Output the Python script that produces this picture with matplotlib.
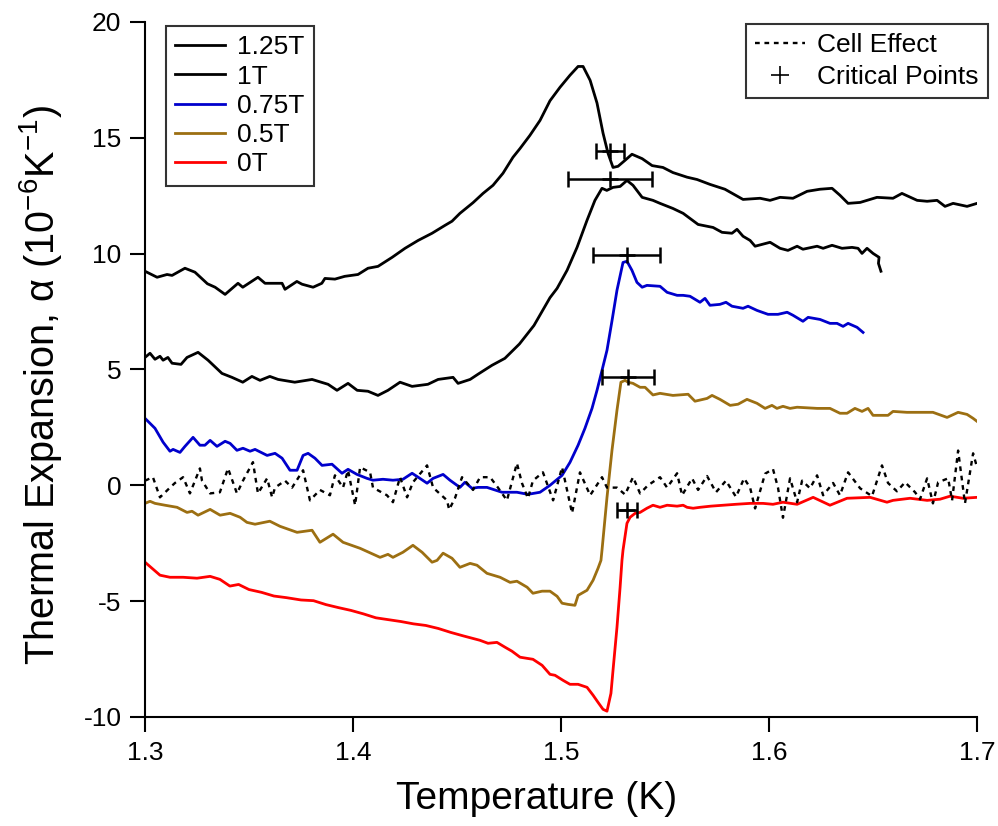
import numpy as np
import matplotlib
matplotlib.use("Agg")
import matplotlib.pyplot as plt
from matplotlib.lines import Line2D

plt.rcParams["font.family"] = ["Liberation Sans", "DejaVu Sans"]
plt.rcParams["mathtext.fontset"] = "custom"
plt.rcParams["mathtext.rm"] = "Liberation Sans"
plt.rcParams["axes.unicode_minus"] = False

# (T [K], alpha [1e-6 / K])
b125 = [(1.300, 9.24), (1.3058, 8.98), (1.3106, 9.10), (1.313, 9.06), (1.3192, 9.37), (1.324, 9.20),
        (1.330, 8.70), (1.3337, 8.55), (1.3385, 8.24), (1.3447, 8.72), (1.347, 8.55), (1.3543, 8.98),
        (1.3577, 8.72), (1.3659, 8.72), (1.3673, 8.46), (1.373, 8.80), (1.3755, 8.68), (1.3808, 8.55),
        (1.385, 8.72), (1.3865, 8.93), (1.3913, 8.90), (1.396, 9.02), (1.4024, 9.10), (1.4072, 9.37),
        (1.412, 9.45), (1.4188, 9.84), (1.425, 10.23), (1.4313, 10.57), (1.438, 10.88), (1.4442, 11.22),
        (1.4476, 11.40), (1.4514, 11.74), (1.4577, 12.20), (1.4625, 12.60), (1.4673, 12.95),
        (1.4721, 13.47), (1.4769, 14.16), (1.4803, 14.54), (1.485, 15.10), (1.4899, 15.75),
        (1.4947, 16.60), (1.4995, 17.18), (1.5043, 17.70), (1.5082, 18.08), (1.5106, 18.08),
        (1.514, 17.48), (1.5173, 16.50), (1.5202, 15.20), (1.5226, 14.33), (1.525, 13.72),
        (1.5274, 13.77), (1.5308, 14.03), (1.5341, 14.29), (1.539, 14.10), (1.5438, 13.80),
        (1.549, 13.72), (1.5538, 13.50), (1.5606, 13.30), (1.5654, 13.20), (1.5716, 12.99),
        (1.5788, 12.78), (1.5875, 12.34), (1.5957, 12.39), (1.6005, 12.30), (1.6053, 12.43),
        (1.6115, 12.39), (1.6183, 12.69), (1.6245, 12.78), (1.6303, 12.82), (1.6341, 12.52),
        (1.638, 12.17), (1.6438, 12.21), (1.6519, 12.43), (1.6596, 12.39), (1.6639, 12.60),
        (1.6712, 12.30), (1.676, 12.26), (1.6808, 12.30), (1.6846, 12.04), (1.6885, 12.17),
        (1.6952, 12.04), (1.700, 12.17)]

b100 = [(1.300, 5.52), (1.3024, 5.70), (1.3048, 5.44), (1.3072, 5.57), (1.3087, 5.40), (1.311, 5.52),
        (1.313, 5.27), (1.3173, 5.22), (1.3202, 5.52), (1.3255, 5.74), (1.3303, 5.40), (1.337, 4.83),
        (1.3418, 4.66), (1.347, 4.45), (1.3514, 4.70), (1.3553, 4.53), (1.360, 4.70), (1.364, 4.57),
        (1.372, 4.45), (1.3803, 4.57), (1.388, 4.36), (1.3923, 4.10), (1.3976, 4.40), (1.402, 4.10),
        (1.4072, 4.06), (1.412, 3.88), (1.4168, 4.10), (1.4226, 4.45), (1.4284, 4.27), (1.436, 4.36),
        (1.4409, 4.57), (1.4481, 4.66), (1.4505, 4.40), (1.4563, 4.57), (1.460, 4.79), (1.4668, 5.18),
        (1.473, 5.48), (1.480, 6.10), (1.487, 6.90), (1.4947, 8.10), (1.4981, 8.50), (1.5029, 9.28),
        (1.5077, 10.27), (1.5125, 11.44), (1.5163, 12.30), (1.5197, 12.82), (1.522, 12.73),
        (1.525, 12.86), (1.5284, 12.90), (1.5317, 13.16), (1.5346, 12.95), (1.539, 12.43),
        (1.5442, 12.30), (1.5476, 12.17), (1.5538, 11.95), (1.5587, 11.74), (1.5659, 11.26),
        (1.5731, 11.13), (1.5774, 10.92), (1.5822, 10.88), (1.5846, 11.05), (1.5875, 10.75),
        (1.5909, 10.57), (1.5933, 10.32), (1.6005, 10.49), (1.6053, 10.23), (1.6091, 10.14),
        (1.6135, 10.32), (1.6163, 10.19), (1.6231, 10.32), (1.626, 10.23), (1.6303, 10.36),
        (1.6351, 10.23), (1.6399, 10.27), (1.6428, 10.23), (1.6447, 10.01), (1.6471, 10.23),
        (1.650, 10.01), (1.6529, 9.84), (1.6526, 9.58), (1.6538, 9.24)]

b075 = [(1.300, 2.89), (1.3048, 2.46), (1.3087, 1.86), (1.312, 1.47), (1.3135, 1.55), (1.3168, 1.42),
        (1.3192, 1.68), (1.3231, 2.07), (1.3264, 1.73), (1.3288, 1.73), (1.3313, 1.94), (1.3346, 1.68),
        (1.3385, 1.90), (1.3409, 1.81), (1.3442, 1.51), (1.3471, 1.60), (1.3505, 1.47), (1.3529, 1.55),
        (1.3587, 1.29), (1.3625, 1.38), (1.3659, 1.17), (1.3697, 0.65), (1.3731, 0.65), (1.376, 1.29),
        (1.3784, 1.38), (1.3817, 1.17), (1.3851, 0.86), (1.3899, 0.91), (1.3947, 0.52), (1.3976, 0.69),
        (1.4019, 0.47), (1.4067, 0.30), (1.4096, 0.22), (1.4144, 0.26), (1.4192, 0.22), (1.424, 0.26),
        (1.4284, 0.52), (1.4313, 0.35), (1.4356, 0.09), (1.4385, 0.30), (1.4433, 0.47), (1.4466, 0.22),
        (1.4514, -0.09), (1.4538, 0.13), (1.4572, -0.13), (1.4601, -0.09), (1.4644, -0.09),
        (1.4716, -0.30), (1.4788, -0.30), (1.4841, -0.39), (1.4899, -0.30), (1.4947, 0.00),
        (1.5005, 0.43), (1.5043, 0.99), (1.5082, 1.73), (1.5115, 2.46), (1.5149, 3.32), (1.5173, 4.10),
        (1.5197, 4.96), (1.5221, 5.83), (1.5245, 7.10), (1.5269, 8.42), (1.5298, 9.62),
        (1.5317, 9.67), (1.5341, 9.28), (1.5365, 8.76), (1.539, 8.55), (1.5413, 8.63), (1.5476, 8.59),
        (1.551, 8.33), (1.5558, 8.20), (1.5587, 8.20), (1.562, 8.16), (1.5668, 7.90), (1.5692, 8.07),
        (1.5716, 7.77), (1.5764, 7.81), (1.5793, 7.90), (1.5822, 7.73), (1.5875, 7.64), (1.5899, 7.73),
        (1.5942, 7.55), (1.5995, 7.38), (1.6043, 7.38), (1.6087, 7.47), (1.6115, 7.34), (1.6163, 7.08),
        (1.6188, 7.25), (1.6245, 7.16), (1.6293, 6.99), (1.6327, 6.99), (1.6356, 6.86), (1.638, 6.99),
        (1.6423, 6.82), (1.6452, 6.60)]

b050 = [(1.300, -0.78), (1.3024, -0.69), (1.3048, -0.78), (1.3096, -0.86), (1.3154, -0.95),
        (1.3202, -1.17), (1.3226, -1.12), (1.3255, -1.29), (1.3313, -1.04), (1.3361, -1.29),
        (1.3409, -1.21), (1.3457, -1.38), (1.349, -1.60), (1.3529, -1.68), (1.360, -1.55),
        (1.3649, -1.77), (1.3731, -2.03), (1.3803, -1.94), (1.3841, -2.46), (1.3904, -2.11),
        (1.3952, -2.46), (1.4034, -2.72), (1.413, -3.11), (1.4168, -2.98), (1.4192, -3.11),
        (1.424, -2.89), (1.4288, -2.59), (1.4332, -2.89), (1.438, -3.32), (1.4404, -3.24),
        (1.4433, -2.93), (1.4476, -3.15), (1.4514, -3.54), (1.4563, -3.37), (1.4596, -3.45),
        (1.4644, -3.80), (1.4707, -3.97), (1.4755, -4.19), (1.4788, -4.14), (1.4837, -4.40),
        (1.4865, -4.66), (1.4909, -4.57), (1.4947, -4.57), (1.4981, -4.79), (1.5005, -5.09),
        (1.5034, -5.14), (1.5067, -5.18), (1.5082, -4.75), (1.5125, -4.53), (1.5154, -4.10),
        (1.5178, -3.58), (1.5192, -3.24), (1.5197, -2.80), (1.5221, -0.52), (1.5245, 1.51),
        (1.5269, 3.24), (1.5288, 4.45), (1.5308, 4.53), (1.5322, 4.45), (1.5346, 4.40), (1.538, 4.23),
        (1.5404, 4.23), (1.5442, 3.90), (1.5476, 3.97), (1.5538, 3.88), (1.5611, 3.93), (1.5644, 3.63),
        (1.5702, 3.75), (1.5726, 3.88), (1.5764, 3.71), (1.5813, 3.45), (1.5851, 3.50), (1.5894, 3.71),
        (1.5942, 3.54), (1.5981, 3.32), (1.6014, 3.45), (1.6038, 3.32), (1.6067, 3.41), (1.6101, 3.32),
        (1.6135, 3.37), (1.6231, 3.32), (1.6293, 3.32), (1.6341, 3.11), (1.6375, 3.11), (1.6413, 3.32),
        (1.6447, 3.19), (1.6476, 3.32), (1.650, 3.02), (1.6534, 3.02), (1.6572, 3.02), (1.6596, 3.19),
        (1.6663, 3.15), (1.6726, 3.15), (1.6788, 3.15), (1.6856, 2.93), (1.6909, 3.15), (1.6952, 3.06),
        (1.6981, 2.89), (1.700, 2.76)]

b000 = [(1.300, -3.32), (1.3072, -3.88), (1.312, -3.97), (1.3183, -3.97), (1.325, -4.01),
        (1.3313, -3.93), (1.336, -4.06), (1.3408, -4.35), (1.345, -4.28), (1.350, -4.50),
        (1.356, -4.62), (1.362, -4.78), (1.368, -4.85), (1.375, -4.95), (1.381, -4.98),
        (1.387, -5.15), (1.393, -5.28), (1.399, -5.40), (1.405, -5.55), (1.411, -5.72),
        (1.417, -5.80), (1.423, -5.88), (1.429, -5.98), (1.435, -6.05), (1.441, -6.18),
        (1.447, -6.35), (1.453, -6.50), (1.461, -6.69), (1.4649, -6.82), (1.4692, -6.78),
        (1.4731, -6.99), (1.4764, -7.16), (1.4803, -7.42), (1.4837, -7.47), (1.4865, -7.51),
        (1.4909, -7.77), (1.4947, -8.16), (1.4971, -8.20), (1.501, -8.42), (1.5043, -8.59),
        (1.5082, -8.59), (1.5125, -8.72), (1.5154, -9.06), (1.5178, -9.37), (1.5202, -9.67),
        (1.5221, -9.75), (1.524, -8.98), (1.525, -7.98), (1.5269, -6.13), (1.5284, -4.40),
        (1.5293, -3.24), (1.5298, -2.80), (1.5317, -1.64), (1.5332, -1.38), (1.5356, -1.21),
        (1.538, -1.17), (1.5413, -0.99), (1.5442, -0.86), (1.5476, -0.95), (1.551, -0.86),
        (1.5558, -0.90), (1.5587, -0.86), (1.5606, -0.95), (1.5635, -0.99), (1.5668, -0.95),
        (1.572, -0.90), (1.578, -0.86), (1.584, -0.82), (1.5909, -0.78), (1.5971, -0.78),
        (1.6019, -0.82), (1.6067, -0.73), (1.6135, -0.82), (1.6212, -0.52), (1.6293, -0.86),
        (1.6375, -0.56), (1.6486, -0.52), (1.6567, -0.73), (1.6596, -0.65), (1.6678, -0.56),
        (1.676, -0.65), (1.6822, -0.60), (1.687, -0.47), (1.6933, -0.56), (1.700, -0.52)]

cell = [(1.300, 0.20), (1.3038, 0.35), (1.3072, -0.52), (1.312, -0.10), (1.3144, 0.10), (1.3183, 0.35),
        (1.3216, -0.35), (1.3264, 0.73), (1.3274, 0.20), (1.3313, -0.35), (1.336, -0.30), (1.3399, 0.73),
        (1.3442, -0.35), (1.3471, 0.20), (1.3519, 1.00), (1.3543, -0.35), (1.3587, 0.30), (1.3611, -0.52),
        (1.3625, -0.10), (1.3673, 0.20), (1.3707, -0.10), (1.376, 0.65), (1.3793, -0.65), (1.3841, -0.20),
        (1.3889, -0.43), (1.3913, 0.43), (1.3952, -0.10), (1.3976, 0.65), (1.401, -0.86), (1.4034, 0.78),
        (1.4082, 0.56), (1.4096, -0.10), (1.4163, -0.43), (1.4192, -0.73), (1.4226, 0.35), (1.426, -0.52),
        (1.4288, 0.13), (1.4356, 0.86), (1.4385, -0.10), (1.4452, -0.65), (1.4462, -1.05), (1.449, -0.56),
        (1.4524, 0.35), (1.4548, 0.10), (1.4577, -0.20), (1.4611, 0.35), (1.4659, 0.35), (1.4697, -0.10),
        (1.474, -0.65), (1.4788, 0.95), (1.4812, 0.10), (1.4841, -0.56), (1.4865, 0.20), (1.4913, 0.56),
        (1.4962, -0.65), (1.5005, 0.78), (1.5053, -1.20), (1.5091, 0.56), (1.514, -0.43), (1.5197, 0.35),
        (1.5221, -0.10), (1.5269, -0.10), (1.5308, -0.40), (1.5346, 0.35), (1.538, -0.35), (1.5418, 0.00),
        (1.5476, 0.35), (1.551, -0.10), (1.5558, 0.52), (1.5582, -0.43), (1.563, 0.30), (1.5659, -0.20),
        (1.5702, 0.40), (1.5745, -0.30), (1.5793, 0.20), (1.5841, -0.50), (1.588, 0.30), (1.5909, -0.10),
        (1.5933, -1.00), (1.5981, 0.50), (1.6019, 0.70), (1.6043, -0.10), (1.6067, -1.40), (1.6101, 0.30),
        (1.6135, -0.73), (1.6159, 0.20), (1.6197, -0.13), (1.6231, 0.43), (1.626, -0.43), (1.6308, 0.10),
        (1.6341, -0.43), (1.638, 0.56), (1.6438, -0.13), (1.6495, -0.47), (1.6543, 0.86), (1.6572, 0.10),
        (1.6615, -0.26), (1.6654, 0.13), (1.6702, -0.30), (1.6726, -0.60), (1.676, 0.30), (1.6788, -0.78),
        (1.6813, 0.13), (1.6861, 0.30), (1.688, -0.65), (1.6909, 1.50), (1.6942, -0.78), (1.6981, 1.38),
        (1.700, 0.78)]

# critical points: T, alpha, half width of T error bar
crit_T = [1.5236, 1.5236, 1.5317, 1.5322, 1.5317]
crit_a = [14.42, 13.21, 9.93, 4.66, -1.08]
crit_dT = [0.0067, 0.0202, 0.0161, 0.0125, 0.0048]

series = [("1.25T", b125, "black"), ("1T", b100, "black"), ("0.75T", b075, "#0000cc"),
          ("0.5T", b050, "#9c6f12"), ("0T", b000, "#ff0000")]

fig = plt.figure(figsize=(9.98, 8.26), dpi=100)
ax = fig.add_axes([0.1453, 0.132, 0.8337, 0.8414])

handles = []
for name, pts, col in series:
    arr = np.array(pts)
    h, = ax.plot(arr[:, 0], arr[:, 1], color=col, lw=2.0, label=name)
    handles.append(h)

c = np.array(cell)
hc, = ax.plot(c[:, 0], c[:, 1], color="black", lw=1.7, linestyle=(0, (2, 2)))

ax.errorbar(crit_T, crit_a, xerr=crit_dT, fmt="+", color="black", ms=12, mew=1.8,
            elinewidth=1.8, capsize=6, capthick=1.8)
hp = Line2D([], [], linestyle="none", marker="+", color="black", ms=13, mew=1.2)

ax.set_xlim(1.3, 1.7)
ax.set_ylim(-10, 20)
ax.set_xticks([1.3, 1.4, 1.5, 1.6, 1.7])
ax.set_yticks([-10, -5, 0, 5, 10, 15, 20])
ax.spines["top"].set_visible(False)
ax.spines["right"].set_visible(False)
for s in ("left", "bottom"):
    ax.spines[s].set_linewidth(1.5)
ax.tick_params(direction="out", length=11, width=1.5, labelsize=19, pad=6)

ax.set_xlabel("Temperature (K)", fontsize=28)
ax.set_ylabel(r"Thermal Expansion, α (10$^{\mathregular{-6}}$K$^{\mathregular{-1}}$)", fontsize=28.5)
ax.xaxis.set_label_coords(0.47, -0.092)
ax.yaxis.set_label_coords(-0.097, 0.478)

leg1 = fig.legend(handles=handles, loc="upper left", bbox_to_anchor=(0.1663, 0.9685),
                  borderaxespad=0, fontsize=19, frameon=True, fancybox=False, edgecolor="black",
                  handlelength=1.9, labelspacing=0.2, borderpad=0.35, handletextpad=0.45)
leg1.get_frame().set_linewidth(1.5)
leg2 = fig.legend(handles=[hc, hp], labels=["Cell Effect", "Critical Points"], loc="upper right",
                  bbox_to_anchor=(0.99, 0.971), borderaxespad=0, fontsize=19, frameon=True,
                  fancybox=False, edgecolor="black", handlelength=1.9, labelspacing=0.3,
                  borderpad=0.35, handletextpad=0.45)
leg2.get_frame().set_linewidth(1.5)

fig.savefig("out.png", dpi=100)
